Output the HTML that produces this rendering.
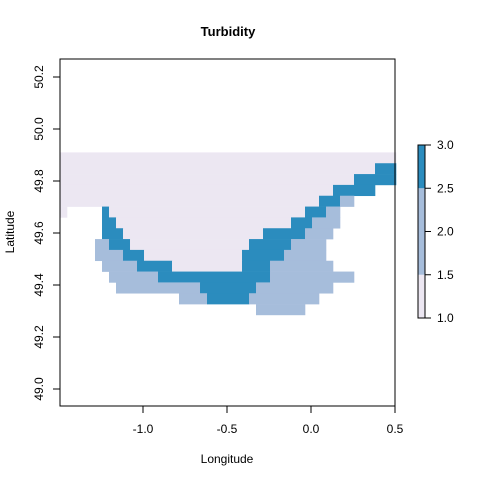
<!DOCTYPE html>
<html><head><meta charset="utf-8"><style>
body{margin:0;background:#fff;}
svg text{font-family:"Liberation Sans",Arial,sans-serif;}
</style></head><body>
<svg id="chart" width="480" height="480" xmlns="http://www.w3.org/2000/svg">
<rect x="0" y="0" width="480" height="480" fill="#fff"/>
<text x="228" y="36" text-anchor="middle" font-weight="bold" font-size="13">Turbidity</text>
<g id="cells"></g>
<rect x="60" y="59" width="335" height="347" fill="none" stroke="#000"/>
<g id="axes"></g>
<text x="227" y="463" text-anchor="middle" font-size="12">Longitude</text>
<text transform="translate(14,232) rotate(-90)" text-anchor="middle" font-size="12">Latitude</text>
<g id="legend"></g>
</svg>
<script>
const xTicks=[-1.0,-0.5,0.0,0.5];
const xTickLabels=["-1.0","-0.5","0.0","0.5"];
const yTicks=[49.0,49.2,49.4,49.6,49.8,50.0,50.2];
const yTickLabels=["49.0","49.2","49.4","49.6","49.8","50.0","50.2"];
const legendTicks=[1.0,1.5,2.0,2.5,3.0];
const legendTickLabels=["1.0","1.5","2.0","2.5","3.0"];
const legendBreaks=[1.0,1.5,2.5,3.0];
const classColors=["#ECE7F2","#A6BDDB","#2B8CBE"];
const lonStart=-1.494, latTop=49.91, cellSize=1/24;
// run-length rows: [classValue, count]; 0 = no data
const rows=[
[[1,48]],
[[1,45],[3,3]],
[[1,42],[3,6]],
[[1,39],[3,6],[0,3]],
[[1,37],[3,3],[2,2],[0,6]],
[[1,1],[0,5],[3,1],[1,28],[3,3],[2,2],[0,8]],
[[0,6],[3,2],[1,25],[3,3],[2,4],[0,8]],
[[0,6],[3,3],[1,20],[3,6],[2,4],[0,9]],
[[0,5],[2,2],[3,3],[1,17],[3,6],[2,5],[0,10]],
[[0,5],[2,4],[3,3],[1,14],[3,6],[2,6],[0,10]],
[[0,6],[2,5],[3,5],[1,10],[3,4],[2,9],[0,9]],
[[0,7],[2,7],[3,16],[2,12],[0,6]],
[[0,8],[2,12],[3,8],[2,11],[0,9]],
[[0,17],[2,4],[3,6],[2,10],[0,11]],
[[0,28],[2,7],[0,13]]
];
const NS="http://www.w3.org/2000/svg";
const xS=v=>311+(v-0)*168;
const yS=v=>181-(v-49.8)*260;
const lS=v=>318-(v-1)*(173/2);
function mk(tag,attrs,parent){const e=document.createElementNS(NS,tag);for(const k in attrs)e.setAttribute(k,attrs[k]);parent.appendChild(e);return e;}
const cells=document.getElementById('cells');
rows.forEach((row,r)=>{let c=0;row.forEach(([v,n])=>{if(v>0){
 const x0=xS(lonStart+c*cellSize),x1=xS(lonStart+(c+n)*cellSize);
 const y0=yS(latTop-r*cellSize),y1=yS(latTop-(r+1)*cellSize);
 const e=mk('rect',{x:x0,y:y0,width:x1-x0+0.3,height:y1-y0+0.3,fill:classColors[v-1]},cells);
 
 
}c+=n;});});
const axes=document.getElementById('axes');
xTicks.forEach((t,i)=>{const x=xS(t);
 const l=mk('line',{x1:x,x2:x,y1:406,y2:413,stroke:'#000'},axes);
 
 
 const tx=mk('text',{x:x,y:433,'text-anchor':'middle','font-size':12},axes);tx.textContent=xTickLabels[i];
 
 
});
yTicks.forEach((t,i)=>{const y=yS(t);
 const l=mk('line',{x1:53,x2:60,y1:y,y2:y,stroke:'#000'},axes);
 
 
 const tx=mk('text',{transform:`translate(43,${y}) rotate(-90)`,'text-anchor':'middle','font-size':12},axes);tx.textContent=yTickLabels[i];
 
 
});
const lg=document.getElementById('legend');
for(let i=0;i<legendBreaks.length-1;i++){
 const y0=lS(legendBreaks[i+1]),y1=lS(legendBreaks[i]);
 const e=mk('rect',{x:418,y:y0,width:7,height:y1-y0,fill:classColors[i]},lg);
 
 
}
mk('rect',{x:418,y:lS(3),width:7,height:lS(1)-lS(3),fill:'none',stroke:'#000'},lg);
legendTicks.forEach((t,i)=>{const y=lS(t);
 const l=mk('line',{x1:425,x2:431,y1:y,y2:y,stroke:'#000'},lg);
 
 
 const tx=mk('text',{x:437,y:y+4,'font-size':12},lg);tx.textContent=legendTickLabels[i];
 
 
});
</script>
</body></html>
